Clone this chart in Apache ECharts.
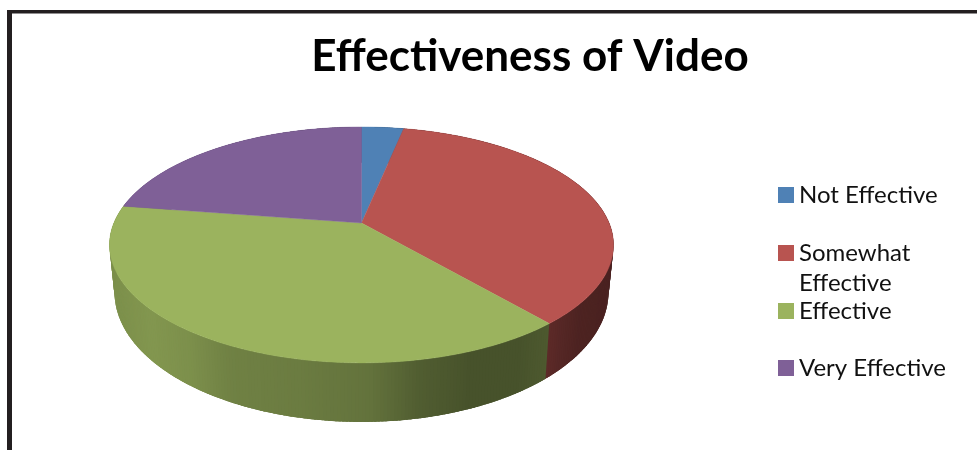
<!DOCTYPE html>
<html><head><meta charset="utf-8">
<style>html,body{margin:0;padding:0;background:#fff}#c{width:977px;height:450px}</style>
<script src="https://cdn.jsdelivr.net/npm/echarts@6/dist/echarts.min.js"></script>
</head><body><div id="c"></div>
<script>
const titleText = 'Effectiveness of Video';
const categories = ['Not Effective', 'Somewhat Effective', 'Effective', 'Very Effective'];
const values = [1, 11, 12, 7];
const faceColors = ['#4f81b5', '#b85450', '#9bb35e', '#7f6097'];

// Projection of the tilted disc
const CX = 361.5, APEX_Y = 223, A = 247.6, B = 72.4, K = -0.186;
function topPt(t) {
  const u = Math.sin(t), v = -Math.cos(t), w = 1 + K * v;
  return [CX + A * u / w, (APEX_Y + B * v) / w];
}
function botPt(t) {
  const p = topPt(t);
  return [CX + (p[0] - CX) * 0.98, 422 + (p[1] - 363) * 1.1];
}
// Side-wall brightness against x position on the wall
const shadeStops = [[110,.8],[150,.84],[190,.8],[230,.72],[300,.69],[370,.64],[420,.52],[470,.46],[520,.46],[550,.5],[580,.42],[620,.4]];
function shadeAt(x) {
  for (let i = 1; i < shadeStops.length; i++) {
    if (x <= shadeStops[i][0]) {
      const a = shadeStops[i-1], b = shadeStops[i];
      return a[1] + (b[1]-a[1]) * (x-a[0]) / (b[0]-a[0]);
    }
  }
  return shadeStops[shadeStops.length-1][1];
}
function darken(hex, f) {
  const n = parseInt(hex.slice(1), 16);
  return `rgb(${Math.round((n>>16&255)*f)},${Math.round((n>>8&255)*f)},${Math.round((n&255)*f)})`;
}
const total = values.reduce((a, b) => a + b, 0);
function sliceAngles(i) {
  let s = 0;
  for (let j = 0; j < i; j++) s += values[j];
  return [s / total * 2 * Math.PI, (s + values[i]) / total * 2 * Math.PI];
}
function sideSeries(i) {
  return {
    type: 'custom', name: categories[i], coordinateSystem: 'none', z: 2, silent: true,
    data: [values[i]],
    renderItem() {
      const [a0, a1] = sliceAngles(i);
      const n = Math.ceil((a1 - a0) / 0.012), kids = [];
      for (let k = 0; k < n; k++) {
        const t0 = a0 + (a1-a0)*k/n, t1 = a0 + (a1-a0)*(k+1)/n;
        const p = topPt((t0+t1)/2), t2 = t1 + 0.02;
        kids.push({type:'polygon', shape:{points:[topPt(t0),topPt(t2),botPt(t2),botPt(t0)]},
          style:{fill:darken(faceColors[i], shadeAt(p[0]))}});
      }
      return {type:'group', children:kids};
    }
  };
}
function faceSeries(i) {
  return {
    type: 'custom', name: categories[i], coordinateSystem: 'none', z: 3, silent: true,
    itemStyle: {color: faceColors[i]},
    data: [values[i]],
    renderItem() {
      const [a0, a1] = sliceAngles(i);
      const n = Math.ceil((a1 - a0) / 0.01), pts = [[CX, APEX_Y]];
      for (let k = 0; k <= n; k++) pts.push(topPt(a0 + (a1-a0)*k/n));
      return {type:'polygon', shape:{points:pts}, style:{fill:faceColors[i], stroke:faceColors[i], lineWidth:0.4}};
    }
  };
}
const font = 'Lato, Carlito, Calibri, sans-serif';
const legendTops = [183, 241, 299, 356];
const legendLabels = ['Not Effective', 'Somewhat', 'Effective', 'Very Effective'];
const chart = echarts.init(document.getElementById('c'), null, {renderer:'canvas', width:977, height:450});
chart.setOption({
  animation: false,
  backgroundColor: '#fff',
  title: {text: titleText, left: 525, top: 30, textAlign: 'center',
    textStyle: {fontFamily: font, fontSize: 44, fontWeight: 'bold', color: '#000'}},
  legend: categories.map((c, i) => ({
    data: [{name: c, icon: 'rect', itemStyle: {color: faceColors[i]}}],
    left: 778, top: legendTops[i], itemWidth: 16, itemHeight: 16, padding: 0, selectedMode: false,
    formatter: () => legendLabels[i],
    textStyle: {fontFamily: font, fontSize: 24, color: '#111'}
  })),
  graphic: [
    {type:'rect', z:0, shape:{x:7,y:10,width:970,height:3.5}, style:{fill:'#231f20'}},
    {type:'rect', z:0, shape:{x:7,y:10,width:5,height:440}, style:{fill:'#231f20'}},
    {type:'text', left: 799, top: 271, style:{text:'Effective', font:'24px '+font, fill:'#111'}}
  ],
  series: [0,1,2,3].map(sideSeries).concat([0,1,2,3].map(faceSeries))
});
</script></body></html>
